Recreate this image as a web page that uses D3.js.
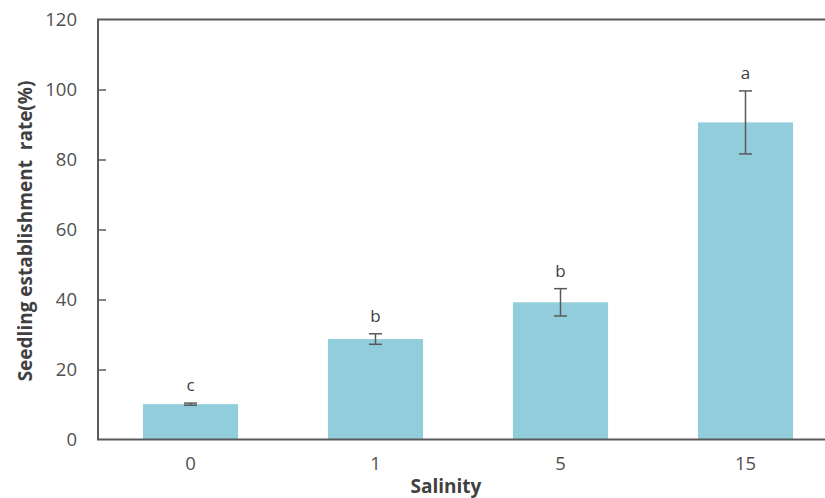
<!DOCTYPE html>
<html>
<head>
<meta charset="utf-8">
<script src="https://cdn.jsdelivr.net/npm/d3@7"></script>
<style>
  body { margin: 0; background: #fff; }
  svg { display: block; }
  text { font-family: "Open Sans", sans-serif; }
</style>
</head>
<body>
<svg id="chart" width="825" height="498"></svg>
<script>
"use strict";

var salinity = ["0", "1", "5", "15"];
var rate = [10.1, 28.7, 39.2, 90.6];
var rateErr = [0.3, 1.5, 3.9, 9.0];
var letters = ["c", "b", "b", "a"];
var yTicks = [0, 20, 40, 60, 80, 100, 120];

var svg = d3.select("#chart");
var plotLeft = 98, plotTop = 19.5, plotBottom = 439.5, plotRight = 838;
var axisColor = "#595959";

var x = d3.scaleBand()
  .domain(salinity)
  .range([plotLeft, plotRight])
  .paddingInner(0.486)
  .paddingOuter(0.243);

var y = d3.scaleLinear()
  .domain([0, 120])
  .range([plotBottom, plotTop]);

function mid(d) { return x(d) + x.bandwidth() / 2; }

// bars
svg.selectAll(".bar")
  .data(salinity)
  .enter().append("rect")
    .attr("class", "bar")
    .attr("x", function(d) { return x(d); })
    .attr("width", x.bandwidth())
    .attr("y", function(d, i) { return y(rate[i]); })
    .attr("height", function(d, i) { return plotBottom - y(rate[i]); })
    .attr("fill", "#92cddc");

// error bars
var err = svg.selectAll(".err")
  .data(salinity)
  .enter().append("g")
    .attr("class", "err")
    .attr("stroke", axisColor)
    .attr("stroke-width", 1.5);

err.append("line")
  .attr("x1", mid)
  .attr("x2", mid)
  .attr("y1", function(d, i) { return y(rate[i] - rateErr[i]); })
  .attr("y2", function(d, i) { return y(rate[i] + rateErr[i]); });

[-1, 1].forEach(function(s) {
  err.append("line")
    .attr("x1", function(d) { return mid(d) - 6.5; })
    .attr("x2", function(d) { return mid(d) + 6.5; })
    .attr("y1", function(d, i) { return y(rate[i] + s * rateErr[i]); })
    .attr("y2", function(d, i) { return y(rate[i] + s * rateErr[i]); });
});

// significance letters
svg.selectAll(".letter")
  .data(salinity)
  .enter().append("text")
    .attr("class", "letter")
    .attr("x", mid)
    .attr("y", function(d, i) { return y(rate[i] + rateErr[i]) - 12; })
    .attr("text-anchor", "middle")
    .attr("font-size", 17)
    .attr("fill", "#404040")
    .text(function(d, i) { return letters[i]; });

// y axis
var yAxis = svg.append("g")
  .attr("transform", "translate(" + plotLeft + ",0)")
  .call(d3.axisLeft(y).tickValues(yTicks).tickSize(-8).tickPadding(21));
yAxis.select(".domain").remove();
yAxis.selectAll(".tick line")
  .attr("stroke", axisColor)
  .attr("stroke-width", 1.5)
  .filter(function(d) { return d === 0 || d === 120; }).remove();
yAxis.selectAll("text")
  .attr("font-size", 18.5)
  .attr("fill", "#505050")
  .attr("font-family", "Open Sans, sans-serif");

// x axis
var xAxis = svg.append("g")
  .attr("transform", "translate(0," + plotBottom + ")")
  .call(d3.axisBottom(x).tickSize(0).tickPadding(17));
xAxis.select(".domain").remove();
xAxis.selectAll("text")
  .attr("font-size", 18.5)
  .attr("fill", "#505050")
  .attr("font-family", "Open Sans, sans-serif");

// plot frame
svg.append("path")
  .attr("d", "M" + plotRight + "," + plotTop + "H" + plotLeft + "V" + plotBottom + "H" + plotRight)
  .attr("fill", "none")
  .attr("stroke", axisColor)
  .attr("stroke-width", 2);

// axis titles
svg.append("text")
  .attr("x", 446)
  .attr("y", 493)
  .attr("text-anchor", "middle")
  .attr("font-size", 19)
  .attr("font-weight", "bold")
  .attr("fill", "#404040")
  .text("Salinity");

svg.append("text")
  .attr("transform", "translate(32,231) rotate(-90)")
  .attr("text-anchor", "middle")
  .attr("font-size", 19)
  .attr("font-weight", "bold")
  .attr("fill", "#404040")
  .style("white-space", "pre")
  .text("Seedling establishment  rate(%)");
</script>
</body>
</html>
